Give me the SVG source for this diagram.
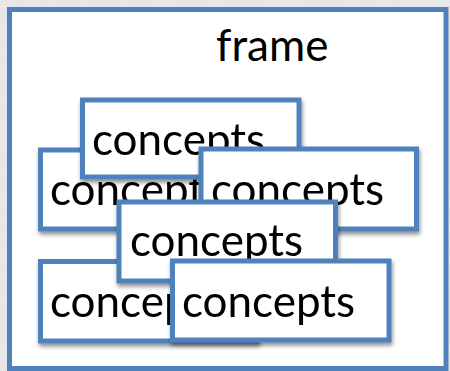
<svg xmlns="http://www.w3.org/2000/svg" width="450" height="371" viewBox="0 0 450 371">
  <defs>
    <!-- grainy grey paper behind the frame -->
    <filter id="grain" x="0" y="0" width="100%" height="100%">
      <feTurbulence type="fractalNoise" baseFrequency="0.9" numOctaves="2" seed="3" result="n"/>
      <feColorMatrix in="n" type="matrix" values="0 0 0 0 0.84  0 0 0 0 0.84  0 0 0 0 0.84  0 0 0 -1.6 1.25" result="g"/>
      <feComposite in="g" in2="SourceGraphic" operator="in"/>
    </filter>
    <!-- soft drop shadow under each concept card -->
    <filter id="shadow" x="-10%" y="-10%" width="125%" height="130%">
      <feGaussianBlur in="SourceAlpha" stdDeviation="2"/>
      <feOffset dx="1" dy="3" result="b"/>
      <feComponentTransfer in="b" result="s">
        <feFuncA type="linear" slope="0.45"/>
      </feComponentTransfer>
      <feMerge>
        <feMergeNode in="s"/>
        <feMergeNode in="SourceGraphic"/>
      </feMerge>
    </filter>
  </defs>
  <style>
    .box { fill: #ffffff; stroke: #4f81bd; stroke-width: 5; }
    .frame { fill: #ffffff; stroke: #4f81bd; stroke-width: 5; }
    .label { font-family: Lato, "Open Sans", "Liberation Sans", sans-serif; font-size: 44px; fill: #000000; }
  </style>

  <rect x="0" y="0" width="450" height="371" fill="#e2e2e2"/>
  <rect x="0" y="0" width="450" height="371" fill="#d4d4d4" filter="url(#grain)"/>

  <g id="frame">
    <rect class="frame" x="9.5" y="9.5" width="436.5" height="359"/>
    <text class="label" x="216" y="61">frame</text>
  </g>

  <g id="connectors"/>

  <g id="concept-2" filter="url(#shadow)">
    <rect class="box" x="40.5" y="150" width="216.5" height="79"/>
    <text class="label" x="50" y="205">concepts</text>
  </g>

  <g id="concept-1" filter="url(#shadow)">
    <rect class="box" x="82.5" y="100" width="216.5" height="77"/>
    <text class="label" x="92" y="155">concepts</text>
  </g>

  <g id="concept-3" filter="url(#shadow)">
    <rect class="box" x="201" y="149" width="215.5" height="80"/>
    <text class="label" x="211" y="205">concepts</text>
  </g>

  <g id="concept-5" filter="url(#shadow)">
    <rect class="box" x="40.5" y="261.5" width="216.5" height="79.5"/>
    <text class="label" x="50" y="317">concepts</text>
  </g>

  <g id="concept-4" filter="url(#shadow)">
    <rect class="box" x="119" y="202" width="216.5" height="79"/>
    <text class="label" x="130" y="256">concepts</text>
  </g>

  <g id="concept-6" filter="url(#shadow)">
    <rect class="box" x="172.5" y="261" width="216.5" height="79"/>
    <text class="label" x="182" y="317">concepts</text>
  </g>
</svg>
